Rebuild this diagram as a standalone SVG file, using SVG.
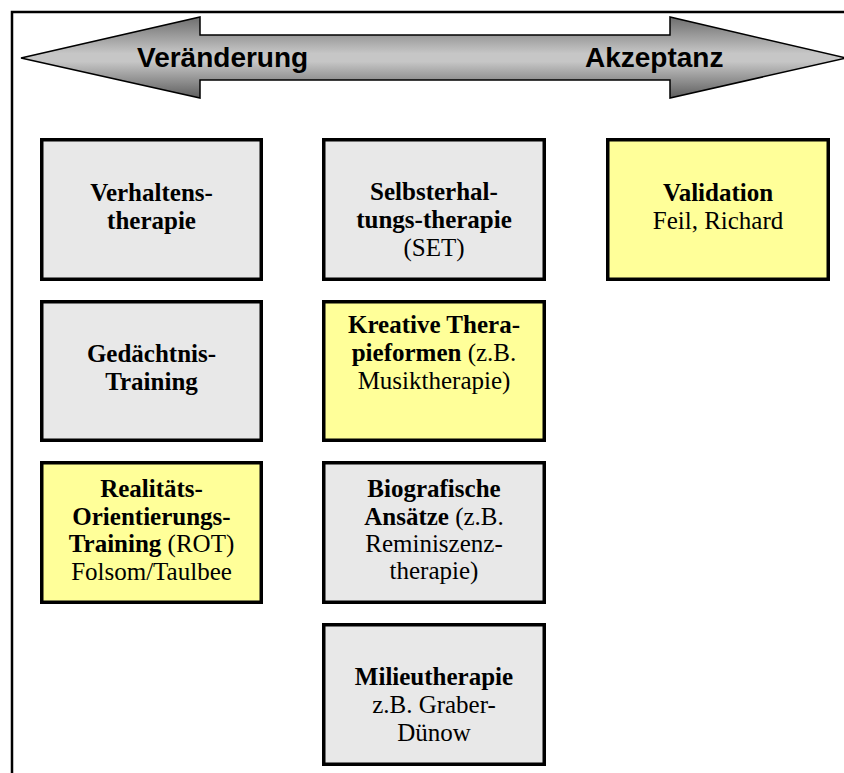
<svg xmlns="http://www.w3.org/2000/svg" width="844" height="773" viewBox="0 0 844 773">
<defs>
<linearGradient id="arrowGrad" x1="0" y1="17" x2="0" y2="98" gradientUnits="userSpaceOnUse">
<stop offset="0" stop-color="#6e6e6e"/>
<stop offset="0.45" stop-color="#c6c6c6"/>
<stop offset="0.55" stop-color="#c6c6c6"/>
<stop offset="1" stop-color="#5e5e5e"/>
</linearGradient>
<style>
.box{stroke:#000;stroke-width:3.5}
.gray{fill:#e8e8e8}
.yellow{fill:#ffff99}
.t{font-family:"Liberation Serif","Times New Roman",serif;font-size:25px;fill:#000;text-anchor:middle}
.b{font-weight:bold}
.at{font-family:"Liberation Sans",Arial,sans-serif;font-size:28px;font-weight:bold;fill:#000}
</style>
</defs>
<rect x="0" y="0" width="844" height="773" fill="#fff"/>
<rect x="12" y="12" width="900" height="900" fill="none" stroke="#000" stroke-width="2.5"/>
<g id="arrow">
<path d="M21,58 L200,17 L200,35 L670,35 L670,17 L846,58 L670,98 L670,80 L200,80 L200,98 Z" fill="url(#arrowGrad)" stroke="#000" stroke-width="1.5" stroke-linejoin="miter"/>
<text class="at" x="137" y="67">Veränderung</text>
<text class="at" x="585" y="67">Akzeptanz</text>
</g>
<g id="connectors"></g>
<g id="verhaltenstherapie">
<rect class="box gray" x="41.75" y="139.75" width="219.5" height="139.5"/>
<text class="t b" x="151.5" y="201">Verhaltens-</text>
<text class="t b" x="151.5" y="229">therapie</text>
</g>
<g id="selbsterhaltungstherapie">
<rect class="box gray" x="323.75" y="139.75" width="220.5" height="139.5"/>
<text class="t b" x="434" y="200">Selbsterhal-</text>
<text class="t b" x="434" y="228">tungs-therapie</text>
<text class="t" x="434" y="256">(SET)</text>
</g>
<g id="validation">
<rect class="box yellow" x="607.75" y="139.75" width="220.5" height="139.5"/>
<text class="t b" x="718" y="201">Validation</text>
<text class="t" x="718" y="229">Feil, Richard</text>
</g>
<g id="gedaechtnistraining">
<rect class="box gray" x="41.75" y="301.75" width="219.5" height="138.5"/>
<text class="t b" x="151.5" y="362">Gedächtnis-</text>
<text class="t b" x="151.5" y="390">Training</text>
</g>
<g id="kreative">
<rect class="box yellow" x="323.75" y="301.75" width="220.5" height="138.5"/>
<text class="t b" x="434" y="333">Kreative Thera-</text>
<text class="t" x="434" y="361"><tspan class="b">pieformen</tspan> (z.B.</text>
<text class="t" x="434" y="389">Musiktherapie)</text>
</g>
<g id="realitaetsorientierung">
<rect class="box yellow" x="41.75" y="462.75" width="219.5" height="139.5"/>
<text class="t b" x="151.5" y="497">Realitäts-</text>
<text class="t b" x="151.5" y="524.5">Orientierungs-</text>
<text class="t" x="151.5" y="552"><tspan class="b">Training</tspan> (ROT)</text>
<text class="t" x="151.5" y="579.5">Folsom/Taulbee</text>
</g>
<g id="biografische">
<rect class="box gray" x="323.75" y="462.75" width="220.5" height="139.5"/>
<text class="t b" x="434" y="497">Biografische</text>
<text class="t" x="434" y="524.5"><tspan class="b">Ansätze</tspan> (z.B.</text>
<text class="t" x="434" y="552">Reminiszenz-</text>
<text class="t" x="434" y="579">therapie)</text>
</g>
<g id="milieutherapie">
<rect class="box gray" x="323.75" y="624.75" width="220.5" height="139.5"/>
<text class="t b" x="434" y="685">Milieutherapie</text>
<text class="t" x="434" y="713">z.B. Graber-</text>
<text class="t" x="434" y="741">Dünow</text>
</g>
</svg>
